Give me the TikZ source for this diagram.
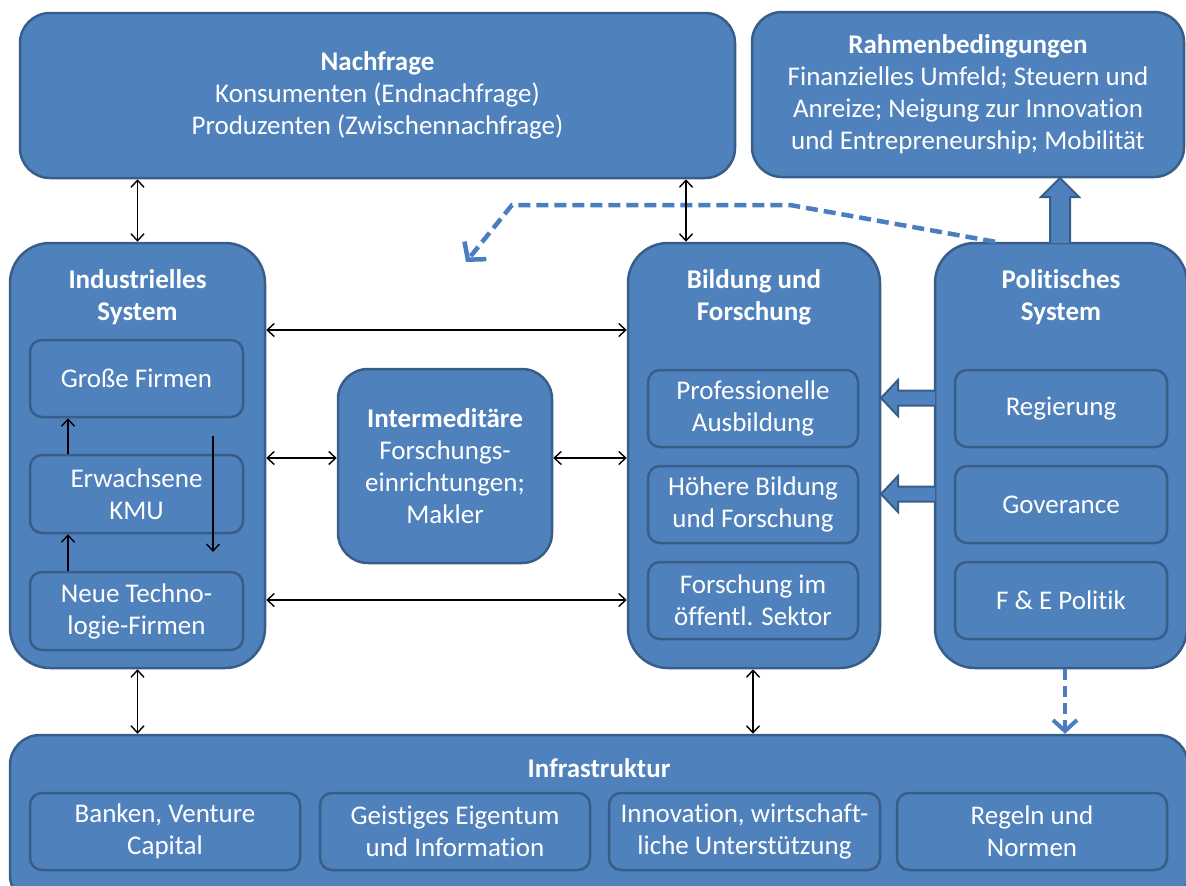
\documentclass[tikz,border=0pt]{standalone}
\usepackage{fontspec}
\setmainfont{Carlito}[Ligatures={NoCommon}]
\usetikzlibrary{arrows.meta,calc}
\definecolor{boxfill}{HTML}{4F81BD}
\definecolor{boxline}{HTML}{385D8A}
\definecolor{dashblue}{HTML}{4A7EBF}

\tikzset{
  txtfont/.style={font=\fontsize{27}{32}\selectfont},
  outerbox/.style={draw=boxline, fill=boxfill, line width=2.5pt, inner sep=0pt,
    text=white, align=center, txtfont},
  innerbox/.style={draw=boxline, fill=boxfill, line width=2.5pt, rounded corners=12pt,
    inner sep=0pt, text=white, align=center, txtfont},
  ttl/.style={text=white, align=center, font=\fontsize{27}{32}\selectfont\bfseries},
  link/.style={{Straight Barb[length=7pt,width=13pt]}-{Straight Barb[length=7pt,width=13pt]},
    line width=1.4pt, black},
  uplink/.style={-{Straight Barb[length=7pt,width=13pt]}, line width=1.4pt, black},
  blockarrow/.style={draw=boxline, fill=boxfill, line width=2pt, line join=miter},
  dashlink/.style={dashblue, line width=4.5pt, dash pattern=on 12pt off 6pt,
    -{Straight Barb[length=12pt,width=28pt]}},
}

\begin{document}
\begin{tikzpicture}[x=1pt, y=-1pt]
\useasboundingbox (0,0) rectangle (1186,886);

% top row
\node[outerbox, rounded corners=30pt, minimum width=715pt, minimum height=165pt]
  (nach) at (377.5,95.5)
  {\textbf{Nachfrage}\\Konsumenten (Endnachfrage)\\Produzenten (Zwischennachfrage)};
\node[outerbox, rounded corners=30pt, minimum width=432pt, minimum height=165pt]
  (rahmen) at (968,94.5)
  {\textbf{Rahmenbedingungen}\\Finanzielles Umfeld; Steuern und\\Anreize; Neigung zur Innovation\\und Entrepreneurship; Mobilität};

% corner points of the dashed feedback line
\coordinate (dA) at (790,205);
\coordinate (dB) at (512,205);
\coordinate (dEnd) at (466,262);

% middle row: industrial system
\node[outerbox, rounded corners=40pt, minimum width=255pt, minimum height=425pt]
  (ind) at (137.5,455.5) {};
\node[ttl] (indT) at (137.5,297) {Industrielles\\System};
\node[innerbox, minimum width=213pt, minimum height=77pt] (gross) at (136.5,378.5) {Große Firmen};
\node[innerbox, minimum width=213pt, minimum height=78pt] (erw) at (136.5,494) {Erwachsene\\KMU};
\node[innerbox, minimum width=213pt, minimum height=78pt] (neue) at (136.5,611) {Neue Techno-\\logie-Firmen};

% intermediaries
\node[outerbox, rounded corners=30pt, minimum width=214pt, minimum height=194pt]
  (inter) at (445,466) {\textbf{Intermeditäre}\\Forschungs-\\einrichtungen;\\Makler};

% education and research
\node[outerbox, rounded corners=40pt, minimum width=252pt, minimum height=425pt]
  (bild) at (754,455.5) {};
\node[ttl] (bildT) at (754,297) {Bildung und\\Forschung};
\node[innerbox, minimum width=210pt, minimum height=77pt] (prof) at (753,408.5) {Professionelle\\Ausbildung};
\node[innerbox, minimum width=210pt, minimum height=77pt] (hoch) at (753,504.5) {Höhere Bildung\\und Forschung};
\node[innerbox, minimum width=210pt, minimum height=77pt] (oeff) at (753,600.5) {Forschung im\\öffentl. Sektor};

% political system
\node[outerbox, rounded corners=40pt, minimum width=252pt, minimum height=425pt]
  (pol) at (1061,455.5) {};
\node[ttl] (polT) at (1061,297) {Politisches\\System};
\node[innerbox, minimum width=212pt, minimum height=77pt] (reg) at (1061,408.5) {Regierung};
\node[innerbox, minimum width=212pt, minimum height=77pt] (gov) at (1061,504.5) {Goverance};
\node[innerbox, minimum width=212pt, minimum height=77pt] (fe) at (1061,600.5) {F \& E Politik};

% infrastructure
\node[outerbox, rounded corners=30pt, minimum width=1178pt, minimum height=170pt]
  (infra) at (599,820) {};
\node[ttl] (infraT) at (599,768) {Infrastruktur};
\node[innerbox, minimum width=270pt, minimum height=77pt] (bank) at (165,831.5) {Banken, Venture\\Capital};
\node[innerbox, minimum width=270pt, minimum height=77pt] (geist) at (455,831.5) {Geistiges Eigentum\\und Information};
\node[innerbox, minimum width=271pt, minimum height=77pt] (innov) at (744.5,831.5) {Innovation, wirtschaft-\\liche Unterstützung};
\node[innerbox, minimum width=270pt, minimum height=77pt] (regeln) at (1032,831.5) {Regeln und\\Normen};

% dashed arrows of the political system
\draw[dashlink, line join=miter] ($(pol.north)+(-66,0)$) -- (dA) -- (dB) -- (dEnd);
\draw[dashlink, line width=4pt, dash pattern=on 11pt off 6pt,
  -{Straight Barb[length=11pt,width=24pt]}]
  ($(pol.south)+(4,0)$) -- ($(infra.north)+(466,0)$);

% two-way links
\coordinate (xN) at (686,0);
\coordinate (xI) at (753,0);
\coordinate (y1) at (0,330);
\coordinate (y2) at (0,458);
\coordinate (y3) at (0,600);
\draw[link] (nach.south -| ind.north) -- (ind.north);
\draw[link] (nach.south -| xN) -- (bild.north -| xN);
\draw[link] (ind.east |- y1) -- (bild.west |- y1);
\draw[link] (ind.east |- y2) -- (inter.west |- y2);
\draw[link] (inter.east |- y2) -- (bild.west |- y2);
\draw[link] (ind.east |- y3) -- (bild.west |- y3);
\draw[link] (ind.south) -- (infra.north -| ind.south);
\draw[link] (bild.south -| xI) -- (infra.north -| xI);

% growth path of firms
\coordinate (xL) at (68,0);
\coordinate (dTop) at (213,436);
\coordinate (dBot) at (213,552);
\draw[uplink] (neue.north -| xL) -- (erw.south -| xL);
\draw[uplink] (erw.north -| xL) -- (gross.south -| xL);
\draw[uplink] (dTop) -- (dBot);

% block arrows from the political system
\foreach \yy in {398,494}{
  \draw[blockarrow] (935,\yy-7.5) -- (898,\yy-7.5) -- (898,\yy-18) -- (881,\yy)
    -- (898,\yy+18) -- (898,\yy+7.5) -- (935,\yy+7.5);
}
\draw[blockarrow] (1050,243) -- (1050,197) -- (1041,197) -- (1060,178)
  -- (1079,197) -- (1070,197) -- (1070,243);
\end{tikzpicture}
\end{document}
